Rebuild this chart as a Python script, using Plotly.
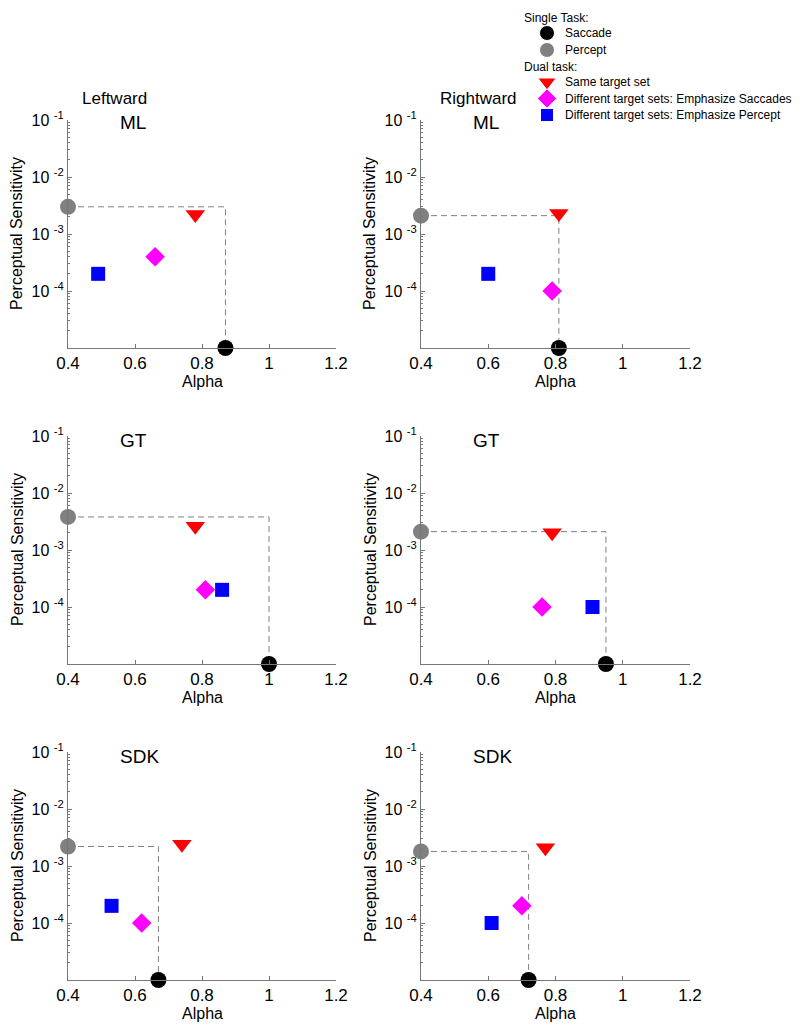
import plotly.graph_objects as go
from plotly.subplots import make_subplots

directions = ["Leftward", "Rightward"]
subjects = ["ML", "GT", "SDK"]

# one value per panel, reading order: ML-L, ML-R, GT-L, GT-R, SDK-L, SDK-R
saccade_alpha = [0.87, 0.81, 1.00, 0.95, 0.67, 0.72]
percept_sens = [3.0e-3, 2.1e-3, 3.8e-3, 2.1e-3, 2.2e-3, 1.8e-3]
same_alpha = [0.78, 0.81, 0.78, 0.79, 0.74, 0.77]
same_sens = [2.2e-3, 2.3e-3, 2.6e-3, 2.0e-3, 2.4e-3, 2.1e-3]
emph_sacc_alpha = [0.66, 0.79, 0.81, 0.76, 0.62, 0.70]
emph_sacc_sens = [4.0e-4, 1.0e-4, 2.0e-4, 1.0e-4, 1.0e-4, 2.0e-4]
emph_perc_alpha = [0.49, 0.60, 0.86, 0.91, 0.53, 0.61]
emph_perc_sens = [2.0e-4, 2.0e-4, 2.0e-4, 1.0e-4, 2.0e-4, 1.0e-4]

# single-task points sit on the axes
alpha_floor = 0.4
sens_floor = 1e-5

x_tickvals = [0.4, 0.6, 0.8, 1.0, 1.2]
x_ticktext = ["0.4", "0.6", "0.8", "1", "1.2"]
y_tickvals = [1e-4, 1e-3, 1e-2, 1e-1]
y_ticktext = ["10 <sup>-4</sup>", "10 <sup>-3</sup>", "10 <sup>-2</sup>", "10 <sup>-1</sup>"]

legend_groups = ["Single Task:", "Dual task:"]
legend_labels = ["Saccade", "Percept", "Same target set",
                 "Different target sets: Emphasize Saccades",
                 "Different target sets: Emphasize Percept"]
legend_symbols = ["circle", "circle", "triangle-down", "diamond", "square"]
legend_colors = ["black", "#808080", "red", "#ff00ff", "#0000ff"]

W, H = 800, 1031
OFF = 8  # page body margin around the plot div
FONT = "Liberation Sans, Arial, sans-serif"
AXIS_COL = "#777777"

# plot boxes in screen pixels
col_px = [(68, 336), (421, 690)]
row_px = [(120, 348), (436, 664), (752, 980)]


def px_x(x):
    return (x - OFF) / W


def px_y(y):
    return 1 - (y - OFF) / H


fig = make_subplots(rows=3, cols=2)

for i in range(6):
    r, c = i // 2, i % 2
    sa = saccade_alpha[i]
    ps = percept_sens[i]

    fig.add_trace(go.Scatter(
        x=[alpha_floor, sa, sa], y=[ps, ps, sens_floor], mode="lines",
        line=dict(color="#808080", width=1, dash="6px,4px"),
        hoverinfo="skip"), row=r + 1, col=c + 1)

    fig.add_trace(go.Scatter(
        x=[sa], y=[sens_floor], mode="markers", name="Saccade",
        marker=dict(symbol="circle", size=16, color="black"),
        cliponaxis=False), row=r + 1, col=c + 1)
    fig.add_trace(go.Scatter(
        x=[alpha_floor], y=[ps], mode="markers", name="Percept",
        marker=dict(symbol="circle", size=16, color="#808080"),
        cliponaxis=False), row=r + 1, col=c + 1)
    fig.add_trace(go.Scatter(
        x=[same_alpha[i]], y=[same_sens[i]], mode="markers", name="Same target set",
        marker=dict(symbol="triangle-down", size=17, color="red"),
        cliponaxis=False), row=r + 1, col=c + 1)
    fig.add_trace(go.Scatter(
        x=[emph_sacc_alpha[i]], y=[emph_sacc_sens[i]], mode="markers",
        name="Emphasize Saccades",
        marker=dict(symbol="diamond", size=15, color="#ff00ff"),
        cliponaxis=False), row=r + 1, col=c + 1)
    fig.add_trace(go.Scatter(
        x=[emph_perc_alpha[i]], y=[emph_perc_sens[i]], mode="markers",
        name="Emphasize Percept",
        marker=dict(symbol="square", size=14, color="#0000ff"),
        cliponaxis=False), row=r + 1, col=c + 1)

    x0, x1 = col_px[c]
    y0, y1 = row_px[r]
    fig.update_xaxes(
        domain=[px_x(x0), px_x(x1)], range=[0.4, 1.2], automargin=False,
        tickvals=x_tickvals, ticktext=x_ticktext,
        ticks="inside", ticklen=4, tickcolor=AXIS_COL,
        showline=True, linecolor=AXIS_COL, linewidth=1,
        showgrid=False, zeroline=False,
        tickfont=dict(family=FONT, size=17, color="black"),
        row=r + 1, col=c + 1)
    fig.update_yaxes(
        domain=[px_y(y1), px_y(y0)], type="log", range=[-5, -1], automargin=False,
        tickvals=y_tickvals, ticktext=y_ticktext,
        ticks="inside", ticklen=4, tickcolor=AXIS_COL,
        minor=dict(dtick="D1", ticks="inside", ticklen=2, tickcolor=AXIS_COL, showgrid=False),
        showline=True, linecolor=AXIS_COL, linewidth=1,
        showgrid=False, zeroline=False,
        tickfont=dict(family=FONT, size=16, color="black"),
        row=r + 1, col=c + 1)

    # subject label inside each panel
    fig.add_annotation(
        text=subjects[r], x=px_x(x0 + 50), y=px_y(y0 + 3 if r == 0 else y0 + 4),
        xref="paper", yref="paper", xanchor="left", yanchor="middle",
        showarrow=False, font=dict(family=FONT, size=19, color="black"))

    # axis titles
    fig.add_annotation(
        text="Alpha", x=px_x((x0 + x1) / 2), y=px_y(y1 + 33),
        xref="paper", yref="paper", xanchor="center", yanchor="middle",
        showarrow=False, font=dict(family=FONT, size=16, color="black"))
    fig.add_annotation(
        text="Perceptual Sensitivity", x=px_x(x0 - 51), y=px_y((y0 + y1) / 2),
        xref="paper", yref="paper", xanchor="center", yanchor="middle", textangle=-90,
        showarrow=False, font=dict(family=FONT, size=16, color="black"))

# direction headers above the first row
for c, d in enumerate(directions):
    fig.add_annotation(
        text=d, x=px_x(col_px[c][0] + (12 if c == 0 else 17)), y=px_y(98),
        xref="paper", yref="paper", xanchor="left", yanchor="middle",
        showarrow=False, font=dict(family=FONT, size=17, color="black"))

# hand-built legend on a hidden pixel-scaled axis pair
LEG_X0, LEG_X1, LEG_Y0, LEG_Y1 = 500, 800, 8, 130
row_y = [33, 50, 82, 98.5, 115]
group_y = [18, 67]
fig.add_trace(go.Scatter(
    x=[547] * len(legend_labels), y=row_y, mode="markers",
    marker=dict(symbol=legend_symbols, color=legend_colors,
                size=[15, 15, 16, 15, 13], opacity=1),
    xaxis="x7", yaxis="y7", cliponaxis=False, hoverinfo="skip"))
for lab, yy in zip(legend_labels, row_y):
    fig.add_annotation(
        text=lab, x=563, y=yy, xref="x7", yref="y7", xanchor="left", yanchor="middle",
        showarrow=False, font=dict(family=FONT, size=12, color="black"))
for g, yy in zip(legend_groups, group_y):
    fig.add_annotation(
        text=g, x=522, y=yy, xref="x7", yref="y7", xanchor="left", yanchor="middle",
        showarrow=False, font=dict(family=FONT, size=12, color="black"))

fig.update_layout(
    width=W, height=H,
    margin=dict(l=0, r=0, t=0, b=0, autoexpand=False),
    plot_bgcolor="white", paper_bgcolor="white",
    showlegend=False,
    xaxis7=dict(domain=[px_x(LEG_X0), px_x(LEG_X1)], range=[LEG_X0, LEG_X1],
                visible=False, fixedrange=True),
    yaxis7=dict(domain=[px_y(LEG_Y1), px_y(LEG_Y0)], range=[LEG_Y1, LEG_Y0],
                visible=False, fixedrange=True, anchor="x7"),
)
fig.update_layout(xaxis7_anchor="y7")

fig.write_html("out.html")
